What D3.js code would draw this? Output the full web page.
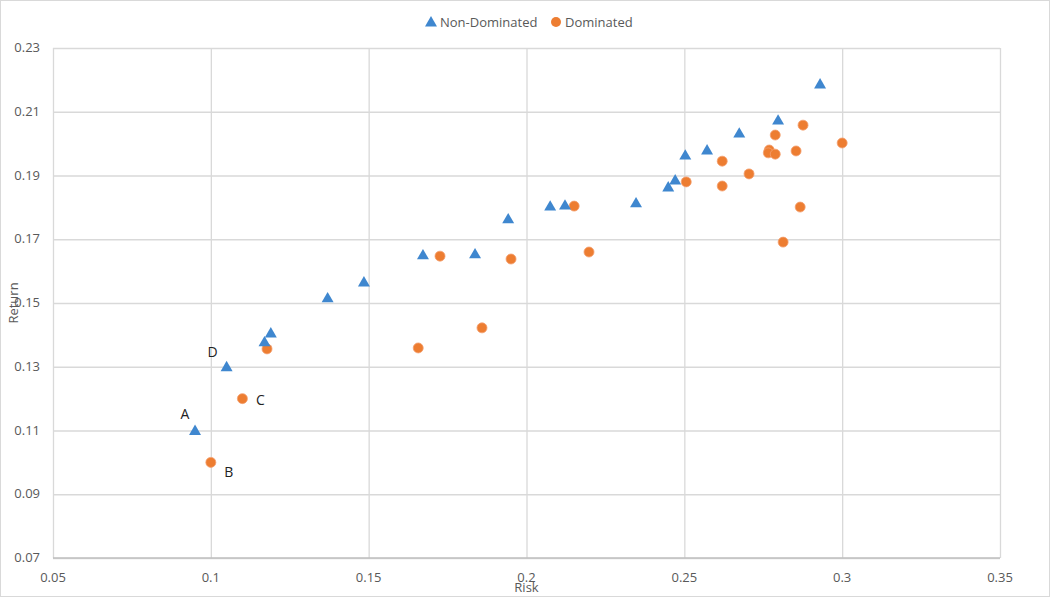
<!DOCTYPE html>
<html>

<head>
  <meta charset="UTF-8">
  <script src="https://d3js.org/d3.v7.js"></script>
  <style>
    body { margin: 0; background: #fff; }
    text { font-family: "Open Sans", "Noto Sans", sans-serif; }
  </style>
</head>

<body>
  <div id="chart"></div>

  <script>
    // data

    const nonDomRisk = [0.095, 0.105, 0.117, 0.119, 0.137, 0.1485, 0.1672, 0.1837, 0.1942, 0.2075,
      0.2122, 0.2347, 0.2449, 0.2471, 0.2503, 0.2572, 0.2674, 0.2797, 0.293];
    const nonDomReturn = [0.110, 0.130, 0.1378, 0.1406, 0.1516, 0.1566, 0.1651, 0.1654, 0.1764, 0.1804,
      0.1807, 0.1814, 0.1864, 0.1886, 0.1964, 0.198, 0.2033, 0.2074, 0.2187];

    const domRisk = [0.1, 0.110, 0.1178, 0.1657, 0.1726, 0.1859, 0.1951, 0.2151, 0.2198, 0.2506,
      0.262, 0.262, 0.2705, 0.2769, 0.2766, 0.2788, 0.2788, 0.2854, 0.2876, 0.2867, 0.2813, 0.3];
    const domReturn = [0.100, 0.120, 0.1356, 0.1359, 0.1647, 0.1422, 0.1638, 0.1804, 0.166, 0.188,
      0.1945, 0.1867, 0.1905, 0.198, 0.1971, 0.1967, 0.2027, 0.1977, 0.2058, 0.1801, 0.1691, 0.2002];

    const pointLabels = [
      { name: 'A', risk: 0.095, ret: 0.110 },
      { name: 'B', risk: 0.100, ret: 0.100 },
      { name: 'C', risk: 0.110, ret: 0.120 },
      { name: 'D', risk: 0.105, ret: 0.130 }
    ];

    const xTicks = [0.05, 0.1, 0.15, 0.2, 0.25, 0.3, 0.35];
    const yTicks = [0.07, 0.09, 0.11, 0.13, 0.15, 0.17, 0.19, 0.21, 0.23];

    const nonDom = nonDomRisk.map((r, i) => ({ risk: r, ret: nonDomReturn[i] }));
    const dom = domRisk.map((r, i) => ({ risk: r, ret: domReturn[i] }));

    // set up

    const W = 1050, H = 597;
    const margin = { top: 48, right: 50, bottom: 39, left: 53 };
    const width = W - margin.left - margin.right;
    const height = H - margin.top - margin.bottom;

    const svgRoot = d3.select('#chart')
      .append('svg')
        .attr('width', W)
        .attr('height', H);

    svgRoot.append('rect')
        .attr('x', 0.5).attr('y', 0.5)
        .attr('width', W - 1).attr('height', H - 1)
        .attr('fill', '#fff')
        .attr('stroke', '#d9d9d9');

    const svg = svgRoot.append('g')
        .attr('transform', `translate(${margin.left},${margin.top})`);

    // scales

    const x = d3.scaleLinear().domain([0.05, 0.35]).range([0, width]);
    const y = d3.scaleLinear().domain([0.07, 0.23]).range([height, 0]);

    // grid + axes

    svg.append('g')
        .call(d3.axisBottom(x).tickValues(xTicks).tickSize(-height).tickFormat(''))
        .attr('transform', `translate(0,${height})`)
        .call(g => g.select('.domain').remove())
        .call(g => g.selectAll('line').attr('stroke', '#d9d9d9').attr('stroke-width', 1.3));

    svg.append('g')
        .call(d3.axisLeft(y).tickValues(yTicks).tickSize(-width).tickFormat(''))
        .call(g => g.select('.domain').remove())
        .call(g => g.selectAll('line').attr('stroke', '#d9d9d9').attr('stroke-width', 1.3));

    svg.append('line')
        .attr('x1', 0).attr('x2', width)
        .attr('y1', height).attr('y2', height)
        .attr('stroke', '#bfbfbf').attr('stroke-width', 1.5);

    svg.append('g')
        .selectAll('text')
        .data(xTicks)
        .join('text')
          .attr('x', d => x(d))
          .attr('y', height + 24)
          .attr('text-anchor', 'middle')
          .attr('font-size', 13)
          .attr('fill', '#595959')
          .text(d => d3.format('')(d));

    svg.append('g')
        .selectAll('text')
        .data(yTicks)
        .join('text')
          .attr('x', -13)
          .attr('y', d => y(d) + 4)
          .attr('text-anchor', 'end')
          .attr('font-size', 13)
          .attr('fill', '#595959')
          .text(d => d3.format('.2f')(d));

    // axis titles
    svgRoot.append('text')
        .attr('x', margin.left + x(0.2))
        .attr('y', 592)
        .attr('text-anchor', 'middle')
        .attr('font-size', 13)
        .attr('fill', '#595959')
        .text('Risk');

    svgRoot.append('text')
        .attr('transform', `translate(18,${margin.top + y(0.15)}) rotate(-90)`)
        .attr('text-anchor', 'middle')
        .attr('font-size', 13)
        .attr('fill', '#595959')
        .text('Return');

    // points

    const blue = '#3f87cf';
    const orange = '#ed7d31';
    const tri = d3.symbol().type(d3.symbolTriangle).size(62);

    svg.append('g')
      .selectAll('circle')
      .data(dom)
      .join('circle')
        .attr('cx', d => x(d.risk))
        .attr('cy', d => y(d.ret))
        .attr('r', 5)
        .attr('fill', orange)
        .attr('stroke', '#f4a070')
        .attr('stroke-width', 0.8);

    svg.append('g')
      .selectAll('path')
      .data(nonDom)
      .join('path')
        .attr('d', tri)
        .attr('transform', d => `translate(${x(d.risk)},${y(d.ret) + 1})`)
        .attr('fill', blue);

    // point labels, placed next to their markers
    const labelOffset = { A: [-10, -17], B: [18, 10], C: [18, 1], D: [-14, -15] };
    svg.append('g')
      .selectAll('text')
      .data(pointLabels)
      .join('text')
        .attr('x', d => x(d.risk) + labelOffset[d.name][0])
        .attr('y', d => y(d.ret) + labelOffset[d.name][1] + 5)
        .attr('text-anchor', 'middle')
        .attr('font-size', 14)
        .attr('fill', '#222')
        .text(d => d.name);

    // legend
    const legend = svgRoot.append('g');
    legend.append('path')
        .attr('d', tri)
        .attr('transform', 'translate(431,23)')
        .attr('fill', blue);
    legend.append('text')
        .attr('x', 440).attr('y', 27)
        .attr('font-size', 13).attr('fill', '#595959')
        .text('Non-Dominated');
    legend.append('circle')
        .attr('cx', 556).attr('cy', 22).attr('r', 5)
        .attr('fill', orange);
    legend.append('text')
        .attr('x', 565).attr('y', 27)
        .attr('font-size', 13).attr('fill', '#595959')
        .text('Dominated');
  </script>
</body>

</html>
